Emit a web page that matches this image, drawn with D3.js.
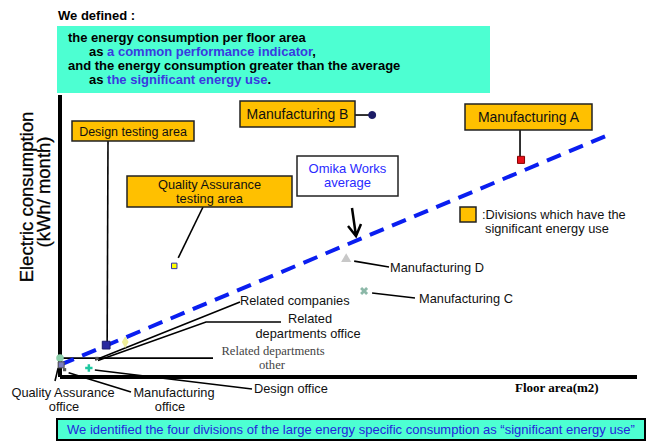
<!DOCTYPE html>
<html lang="en">
<head>
<meta charset="UTF-8">
<title>Energy consumption per floor area</title>
<script src="https://d3js.org/d3.v7.min.js"></script>
<style>
  body { margin: 0; background: #fff; }
  svg { display: block; font-family: "Liberation Sans", Arial, sans-serif; }
  .lead { stroke: #000; stroke-width: 1.6px; fill: none; }
  .lbl { font-size: 12.8px; fill: #111; }
  .box { stroke: #222; stroke-width: 1.5px; }
</style>
</head>
<body>
<svg id="chart" width="662" height="444"></svg>
<script>
// divisions (relative units, axes have no ticks)
const divisions = [
  "Manufacturing A", "Manufacturing B", "Manufacturing C", "Manufacturing D",
  "Design testing area", "Quality Assurance testing area", "Related companies",
  "Related departments office", "Related departments other", "Design office",
  "Manufacturing office", "Quality Assurance office"
];
const floorArea   = [79.9, 54.1, 52.7, 49.6, 8.0, 19.8, 11.3, 6.4, 0.0, 5.0, 0.8, 0.2];
const consumption = [77.0, 92.9, 30.5, 41.8, 11.3, 39.4, 12.4, 6.6, 6.7, 3.2, 2.6, 4.3];
// Omika Works average line
const avgArea = [0, 95];
const avgConsumption = [4.3, 85.8];

const svg = d3.select('#chart');
const margin = { top: 95, right: 25, bottom: 67, left: 60 };
const W = 662, H = 444;

const x = d3.scaleLinear().domain([0, 100]).range([margin.left, W - margin.right]);
const y = d3.scaleLinear().domain([0, 100]).range([H - margin.bottom, margin.top]);

// marker styles per division
const markStyle = {
  "Manufacturing A": { type: d3.symbolSquare, size: 50, fill: '#e8101a', stroke: '#800' },
  "Manufacturing B": { type: d3.symbolCircle, size: 40, fill: '#1c1c66', stroke: '#1c1c66' },
  "Manufacturing C": { type: d3.symbolCross, size: 40, fill: '#8cb8a8', stroke: 'none', rot: 45 },
  "Manufacturing D": { type: d3.symbolTriangle, size: 45, fill: '#c8c8c8', stroke: 'none' },
  "Design testing area": { type: d3.symbolSquare, size: 60, fill: '#2a2aa0', stroke: '#1a1a70' },
  "Quality Assurance testing area": { type: d3.symbolSquare, size: 30, fill: '#ffff00', stroke: '#3333aa' },
  "Related companies": { type: d3.symbolDiamond, size: 40, fill: '#eeee99', stroke: 'none' },
  "Related departments office": { type: d3.symbolSquare, size: 10, fill: '#555', stroke: 'none' },
  "Related departments other": { type: d3.symbolCircle, size: 45, fill: '#8ccfaa', stroke: 'none' },
  "Design office": { type: d3.symbolCross, size: 30, fill: '#1ec8a0', stroke: 'none' },
  "Manufacturing office": { type: d3.symbolSquare, size: 10, fill: '#555', stroke: 'none' },
  "Quality Assurance office": { type: d3.symbolSquare, size: 36, fill: '#7a7ac0', stroke: '#555' }
};

const pts = divisions.map((d, i) => ({ name: d, px: x(floorArea[i]), py: y(consumption[i]) }));
const P = name => pts.find(p => p.name === name);

// header
svg.append('text').attr('x', 58).attr('y', 20).attr('font-size', 13).attr('font-weight', 'bold').text('We defined :');
svg.append('rect').attr('x', 57).attr('y', 26).attr('width', 433).attr('height', 67).attr('fill', '#4dffd2');
const head = [
  { x: 68, y: 42, parts: [['the energy consumption per floor area', '#000']] },
  { x: 89, y: 56, parts: [['as ', '#000'], ['a common performance indicator', '#3a3ae0'], [',', '#000']] },
  { x: 68, y: 70, parts: [['and the energy consumption greater than the average', '#000']] },
  { x: 89, y: 84, parts: [['as ', '#000'], ['the significant energy use', '#3a3ae0'], ['.', '#000']] }
];
head.forEach(l => {
  const t = svg.append('text').attr('x', l.x).attr('y', l.y).attr('font-size', 13).attr('font-weight', 'bold');
  l.parts.forEach(p => t.append('tspan').attr('fill', p[1]).text(p[0]));
});

// axes
svg.append('line').attr('x1', x(0)).attr('x2', x(0)).attr('y1', y(100)).attr('y2', y(0))
  .attr('stroke', '#000').attr('stroke-width', 4);
svg.append('line').attr('x1', x(0)).attr('x2', x(100)).attr('y1', y(0)).attr('y2', y(0))
  .attr('stroke', '#000').attr('stroke-width', 4);

svg.append('g').attr('transform', 'translate(33,197) rotate(-90)')
  .append('text').attr('text-anchor', 'middle').attr('font-size', 18.5).attr('stroke', '#000').attr('stroke-width', 0.3)
  .text('Electric consumption');
svg.append('g').attr('transform', 'translate(50,192) rotate(-90)')
  .append('text').attr('text-anchor', 'middle').attr('font-size', 18.5).attr('stroke', '#000').attr('stroke-width', 0.3)
  .text('(kWh/ month)');
svg.append('text').attr('x', 515).attr('y', 392).attr('font-family', '"Liberation Serif", "Times New Roman", serif')
  .attr('font-weight', 'bold').attr('font-size', 13).text('Floor area(m2)');

// leader lines
function lead(points) {
  svg.append('path').attr('class', 'lead').attr('d', d3.line()(points));
}
const mA = P('Manufacturing A'), mB = P('Manufacturing B'), mC = P('Manufacturing C'), mD = P('Manufacturing D');
const dT = P('Design testing area'), qT = P('Quality Assurance testing area'), rc = P('Related companies');
const ro = P('Related departments office'), rt = P('Related departments other'), dO = P('Design office');
const mO = P('Manufacturing office'), qO = P('Quality Assurance office');

lead([[355, mB.py], [mB.px - 3, mB.py]]);
lead([[mA.px - 1, 130], [mA.px - 1, mA.py - 3]]);
lead([[108, 141], [dT.px + 1, dT.py - 3]]);
lead([[203, 207], [qT.px + 4, qT.py - 8]]);
lead([[mD.px + 8, mD.py + 2], [389, 267]]);
lead([[mC.px + 8, mC.py + 2], [415, 298]]);
lead([[rc.px - 30, rc.py + 18], [240, 302]]);
lead([[ro.px + 1, ro.py + 2], [206, 322], [281, 322]]);
lead([[rt.px + 2, rt.py], [213, rt.py]]);
lead([[dO.px + 6, dO.py + 2], [252, 389]]);
lead([[mO.px + 4, mO.py + 3], [131, 392]]);
lead([[55, 381], [qO.px - 3, qO.py + 3]]);

// average line
svg.append('path')
  .attr('d', d3.line()(avgArea.map((a, i) => [x(a), y(avgConsumption[i])])))
  .attr('stroke', '#0a1ef0').attr('stroke-width', 4).attr('stroke-dasharray', '15 9').attr('fill', 'none');

// markers
svg.append('g').selectAll('path').data(pts).join('path')
  .attr('transform', d => `translate(${d.px},${d.py}) rotate(${markStyle[d.name].rot || 0})`)
  .attr('d', d => d3.symbol().type(markStyle[d.name].type).size(markStyle[d.name].size)())
  .attr('fill', d => markStyle[d.name].fill)
  .attr('stroke', d => markStyle[d.name].stroke)
  .attr('stroke-width', 1);

// boxed labels
function box(bx, by, bw, bh, fill, lines, size, color) {
  svg.append('rect').attr('class', 'box').attr('x', bx).attr('y', by).attr('width', bw).attr('height', bh).attr('fill', fill);
  lines.forEach(l => svg.append('text').attr('x', bx + bw / 2).attr('y', l[1]).attr('text-anchor', 'middle')
    .attr('font-size', size).attr('fill', color || '#111').text(l[0]));
}
const orange = '#ffc000';
box(240, 101, 115, 26, orange, [['Manufacturing B', 119]], 14);
box(465, 104, 127, 26, orange, [['Manufacturing A', 122]], 14);
box(72, 121, 122, 20, orange, [['Design testing area', 135.5]], 12.5);
box(127, 176, 165, 31, orange, [['Quality  Assurance', 189], ['testing area', 203]], 12.8);
box(297, 156, 101, 40, '#fff', [['Omika Works', 173], ['average', 187]], 13, '#2a2aff');
box(460, 207, 16, 15, orange, [], 12);
svg.append('text').attr('class', 'lbl').attr('x', 482).attr('y', 219).text(':Divisions which  have the');
svg.append('text').attr('class', 'lbl').attr('x', 485).attr('y', 233).text('significant energy use');

// arrow
svg.append('path').attr('d', 'M352,208 L356,236 M348,226 L356,236 L361,224')
  .attr('stroke', '#000').attr('stroke-width', 2.5).attr('fill', 'none');

// plain labels
const txt = (tx, ty, s, anchor) => svg.append('text').attr('class', 'lbl').attr('x', tx).attr('y', ty)
  .attr('text-anchor', anchor || 'start').text(s);
txt(390, 272, 'Manufacturing  D');
txt(419, 303, 'Manufacturing  C');
txt(240, 305, 'Related companies');
txt(310, 323, 'Related', 'middle');
txt(308, 338, 'departments office', 'middle');
txt(254, 393, 'Design office');
txt(174, 397, 'Manufacturing', 'middle');
txt(170, 411, 'office', 'middle');
txt(63, 397, 'Quality  Assurance', 'middle');
txt(64, 411, 'office', 'middle');
const serif = '"Liberation Serif", "Times New Roman", serif';
svg.append('text').attr('x', 273).attr('y', 355).attr('text-anchor', 'middle').attr('font-family', serif)
  .attr('font-size', 12.6).attr('fill', '#444').text('Related departments');
svg.append('text').attr('x', 272).attr('y', 369).attr('text-anchor', 'middle').attr('font-family', serif)
  .attr('font-size', 12.6).attr('fill', '#444').text('other');

// footer
svg.append('rect').attr('x', 57).attr('y', 419).attr('width', 588).attr('height', 21)
  .attr('fill', '#4dffd2').attr('stroke', '#000').attr('stroke-width', 2);
svg.append('text').attr('x', 67).attr('y', 434).attr('font-size', 13).attr('fill', '#2525dd')
  .text('We identified the four divisions of the large energy specific consumption as \u201csignificant energy use\u201d');
</script>
</body>
</html>
